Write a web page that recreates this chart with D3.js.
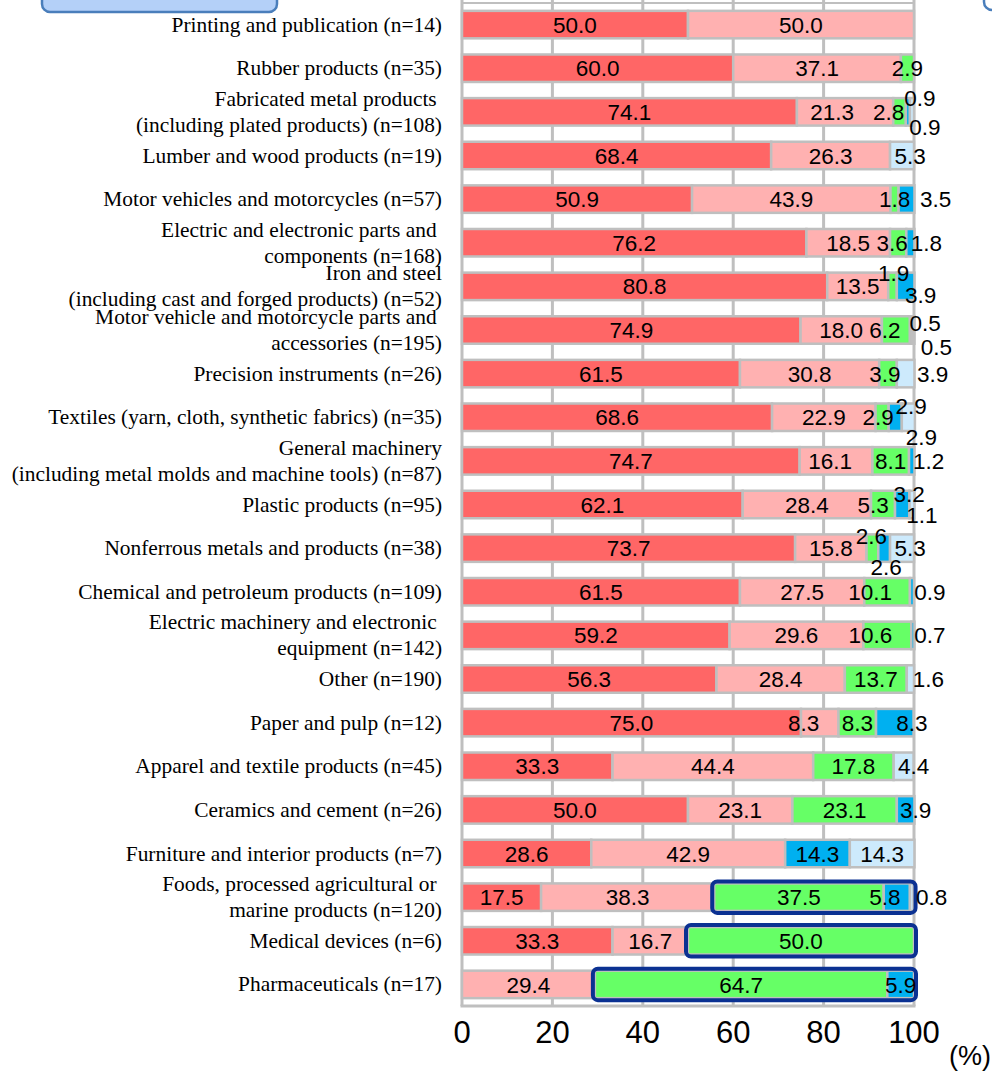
<!DOCTYPE html>
<html>
<head>
<meta charset="utf-8">
<script src="https://cdn.jsdelivr.net/npm/d3@7"></script>
<style>
  html, body { margin: 0; padding: 0; background: #ffffff; }
  svg { display: block; }
</style>
</head>
<body>
<div id="chart"></div>
<script>
// Industries, top to bottom ("\n" = line break in the label)
const categories = [
    'Printing and publication (n=14)',
    'Rubber products (n=35)',
    'Fabricated metal products\u00A0\n(including plated products) (n=108)',
    'Lumber and wood products (n=19)',
    'Motor vehicles and motorcycles (n=57)',
    'Electric and electronic parts and\u00A0\ncomponents (n=168)',
    'Iron and steel\n(including cast and forged products) (n=52)',
    'Motor vehicle and motorcycle parts and\u00A0\naccessories (n=195)',
    'Precision instruments (n=26)',
    'Textiles (yarn, cloth, synthetic fabrics) (n=35)',
    'General machinery\n(including metal molds and machine tools) (n=87)',
    'Plastic products (n=95)',
    'Nonferrous metals and products (n=38)',
    'Chemical and petroleum products (n=109)',
    'Electric machinery and electronic\u00A0\nequipment (n=142)',
    'Other (n=190)',
    'Paper and pulp (n=12)',
    'Apparel and textile products (n=45)',
    'Ceramics and cement (n=26)',
    'Furniture and interior products (n=7)',
    'Foods, processed agricultural or\u00A0\nmarine products (n=120)',
    'Medical devices (n=6)',
    'Pharmaceuticals (n=17)'
];

// Shares (%) for the five stacked segments
const series1 = [50.0, 60.0, 74.1, 68.4, 50.9, 76.2, 80.8, 74.9, 61.5, 68.6, 74.7, 62.1, 73.7, 61.5, 59.2, 56.3, 75.0, 33.3, 50.0, 28.6, 17.5, 33.3, 0];
const series2 = [50.0, 37.1, 21.3, 26.3, 43.9, 18.5, 13.5, 18.0, 30.8, 22.9, 16.1, 28.4, 15.8, 27.5, 29.6, 28.4, 8.3, 44.4, 23.1, 42.9, 38.3, 16.7, 29.4];
const series3 = [0, 2.9, 2.8, 0, 1.8, 3.6, 1.9, 6.2, 3.9, 2.9, 8.1, 5.3, 2.6, 10.1, 10.6, 13.7, 8.3, 17.8, 23.1, 0, 37.5, 50.0, 64.7];
const series4 = [0, 0, 0.9, 0, 3.5, 1.8, 3.9, 0.5, 0, 2.9, 1.2, 3.2, 2.6, 0.9, 0.7, 0, 8.3, 0, 3.9, 14.3, 5.8, 0, 5.9];
const series5 = [0, 0, 0.9, 5.3, 0, 0, 0, 0.5, 3.9, 2.9, 0, 1.1, 5.3, 0, 0, 1.6, 0, 4.4, 0, 14.3, 0.8, 0, 0];

const seriesKeys = ['s1', 's2', 's3', 's4', 's5'];
const xTicks = [0, 20, 40, 60, 80, 100];

// Rows whose segments from series 3 onward are outlined
const highlightRows = [20, 21, 22];
const highlightFromSeries = 2;

// Hand-placed value labels: "row-series" -> [dx, dy] in px
const labelNudges = {
    '2-1': [-13, 0], '2-2': [-11, 0], '2-3': [12, -14], '2-4': [13, 15],
    '3-4': [8, 0],
    '4-3': [29, 0],
    '5-2': [-6, 0], '5-3': [16, 0],
    '6-2': [1, -13], '6-3': [15, 9],
    '7-2': [-11, 0], '7-3': [14, -7], '7-4': [23, 17],
    '8-2': [-3, 0], '8-4': [27, 0],
    '9-2': [-4, 0], '9-3': [16, -11], '9-4': [13, 20],
    '10-1': [-6, 0], '10-3': [17, 0],
    '11-2': [-10, 0], '11-3': [7, -11], '11-4': [10, 10],
    '12-2': [-1, -12], '12-3': [2, 19], '12-4': [8, 0],
    '13-2': [-17, 0], '13-3': [18, 0],
    '14-2': [-17, 0], '14-3': [17, 0],
    '15-4': [18, 0],
    '16-1': [-16, 0], '16-3': [17, 0],
    '17-4': [10, 0],
    '18-3': [10, 0],
    '20-3': [-12, 0], '20-4': [20, 0]
};

const colors = ['#ff6666', '#ffb1b1', '#66ff66', '#00b0f0', '#cdeafc'];

const width = 992;
const height = 1072;
const plot = { left: 462, right: 914, top: 3, bottom: 1006 };

const svg = d3.select('#chart')
    .append('svg')
    .attr('width', width)
    .attr('height', height)
    .style('background-color', '#ffffff');

// Build rows and stack them
const rows = categories.map((name, i) => ({
    name,
    s1: series1[i], s2: series2[i], s3: series3[i], s4: series4[i], s5: series5[i]
}));
const stacked = d3.stack().keys(seriesKeys)(rows);

const x = d3.scaleLinear().domain([0, 100]).range([plot.left, plot.right]);
const y = d3.scaleBand()
    .domain(d3.range(categories.length))
    .range([plot.top, plot.bottom])
    .paddingInner(0.37)
    .paddingOuter(0.18);

// Cropped callout boxes at the top edge
function drawCallouts() {
    const g = svg.append('g').attr('class', 'callouts');
    g.append('rect')
        .attr('x', 42).attr('y', -40)
        .attr('width', 235).attr('height', 52)
        .attr('rx', 8)
        .attr('fill', '#b4d0f8')
        .attr('stroke', '#4a7ebb')
        .attr('stroke-width', 2.5);
    g.append('rect')
        .attr('x', 984).attr('y', -40)
        .attr('width', 100).attr('height', 50)
        .attr('rx', 8)
        .attr('fill', 'none')
        .attr('stroke', '#4a7ebb')
        .attr('stroke-width', 2.5);
}

// Frame and vertical grid lines
function drawGrid() {
    const g = svg.append('g').attr('class', 'grid');
    g.selectAll('line')
        .data(xTicks)
        .join('line')
        .attr('x1', d => x(d)).attr('x2', d => x(d))
        .attr('y1', 0).attr('y2', plot.bottom)
        .attr('stroke', '#bfbfbf')
        .attr('stroke-width', 3);
    g.append('line')
        .attr('x1', plot.left).attr('x2', plot.right)
        .attr('y1', plot.top).attr('y2', plot.top)
        .attr('stroke', '#bfbfbf').attr('stroke-width', 2);
    g.append('line')
        .attr('x1', plot.left - 1.5).attr('x2', plot.right + 1.5)
        .attr('y1', plot.bottom).attr('y2', plot.bottom)
        .attr('stroke', '#bfbfbf').attr('stroke-width', 3);
}

function drawBars() {
    const g = svg.append('g').attr('class', 'bars');
    g.selectAll('g.series')
        .data(stacked)
        .join('g')
        .attr('class', 'series')
        .attr('fill', (d, i) => colors[i])
        .selectAll('rect')
        .data(d => d.filter(p => p[1] - p[0] > 0))
        .join('rect')
        .attr('x', p => x(p[0]))
        .attr('y', p => y(rows.indexOf(p.data)))
        .attr('width', p => x(p[1]) - x(p[0]))
        .attr('height', y.bandwidth())
        .attr('stroke', '#bfbfbf')
        .attr('stroke-width', 2.5);
}

function drawHighlights() {
    const g = svg.append('g').attr('class', 'highlights');
    g.selectAll('rect')
        .data(highlightRows)
        .join('rect')
        .attr('x', r => x(stacked[highlightFromSeries][r][0]) - 2)
        .attr('y', r => y(r) - 2)
        .attr('width', r => x(stacked[seriesKeys.length - 1][r][1]) - x(stacked[highlightFromSeries][r][0]) + 4)
        .attr('height', y.bandwidth() + 4)
        .attr('rx', 5)
        .attr('fill', 'none')
        .attr('stroke', '#0b3192')
        .attr('stroke-width', 4);
}

function drawValueLabels() {
    const g = svg.append('g').attr('class', 'value-labels')
        .attr('font-family', '"Liberation Sans", Arial, sans-serif')
        .attr('font-size', '22.5px')
        .attr('fill', '#000000')
        .attr('text-anchor', 'middle');
    stacked.forEach((layer, si) => {
        layer.forEach((p, ri) => {
            const v = p[1] - p[0];
            if (!(v > 0)) return;
            const nudge = labelNudges[`${ri}-${si}`] || [0, 0];
            g.append('text')
                .attr('x', x((p[0] + p[1]) / 2) + nudge[0])
                .attr('y', y(ri) + y.bandwidth() / 2 + nudge[1])
                .attr('dy', '0.36em')
                .text(d3.format('.1f')(v));
        });
    });
}

function drawCategoryLabels() {
    const g = svg.append('g').attr('class', 'category-labels')
        .attr('font-family', '"Liberation Serif", "Times New Roman", serif')
        .attr('font-size', '21.4px')
        .attr('fill', '#000000')
        .attr('text-anchor', 'end');
    const lineGap = 26;
    categories.forEach((name, i) => {
        const lines = name.split('\n');
        const cy = y(i) + y.bandwidth() / 2;
        const t = g.append('text')
            .attr('x', plot.left - 20)
            .attr('y', cy - (lines.length - 1) * lineGap / 2)
            .attr('dy', '0.33em');
        lines.forEach((line, li) => {
            t.append('tspan')
                .attr('x', plot.left - 20)
                .attr('dy', li === 0 ? '0.33em' : lineGap)
                .text(line);
        });
    });
}

function drawAxis() {
    const g = svg.append('g').attr('class', 'x-axis')
        .attr('font-family', '"Liberation Sans", Arial, sans-serif')
        .attr('fill', '#000000');
    g.selectAll('text.tick')
        .data(xTicks)
        .join('text')
        .attr('class', 'tick')
        .attr('x', d => x(d))
        .attr('y', 1043)
        .attr('text-anchor', 'middle')
        .attr('font-size', '31px')
        .text(d => d);
    g.append('text')
        .attr('x', 970)
        .attr('y', 1065)
        .attr('text-anchor', 'middle')
        .attr('font-size', '27px')
        .text('(%)');
}

drawCallouts();
drawGrid();
drawBars();
drawHighlights();
drawValueLabels();
drawCategoryLabels();
drawAxis();
</script>
</body>
</html>
